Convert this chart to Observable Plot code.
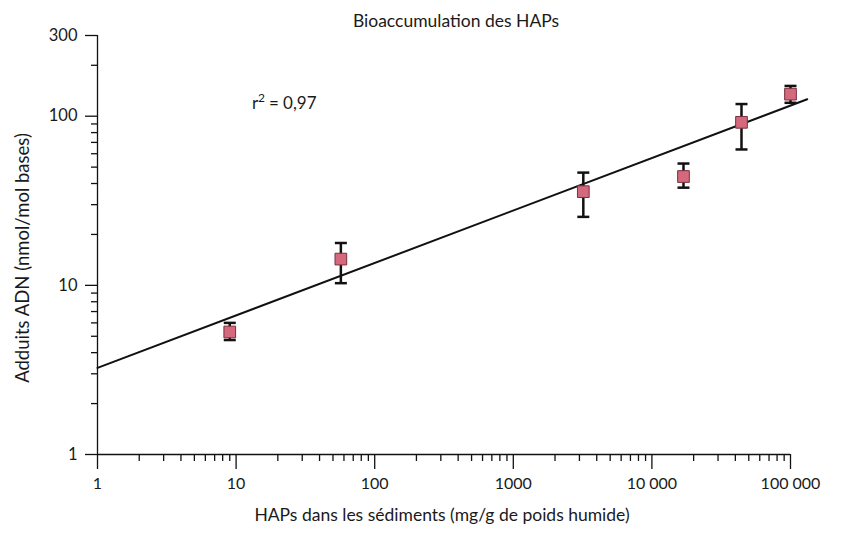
<!DOCTYPE html>
<html>
<head>
<meta charset="utf-8">
<script src="https://cdn.jsdelivr.net/npm/d3@7"></script>
<script src="https://cdn.jsdelivr.net/npm/@observablehq/plot@0.6"></script>
<style>
  html, body { margin: 0; padding: 0; background: #fff; }
  #chart { width: 841px; height: 536px; }
</style>
</head>
<body>
<div id="chart"></div>
<script>
// ---- data ----
const title = "Bioaccumulation des HAPs";
const xLabel = "HAPs dans les sédiments (mg/g de poids humide)";
const yLabel = "Adduits ADN (nmol/mol bases)";
const r2Label = "= 0,97";

const sediment = [9, 57, 3200, 16900, 44300, 100000];
const adducts  = [5.3, 14.3, 35.8, 44.0, 92, 135];
const adductsLow  = [4.75, 10.3, 25.4, 37.8, 63.6, 120];
const adductsHigh = [6.0, 17.8, 46.4, 52.5, 118, 151];

const fitX = [1, 132000];
const fitY = [3.25, 126];

const xMajorTicks = [1, 10, 100, 1000, 10000, 100000];
const xMajorLabels = ["1", "10", "100", "1000", "10 000", "100 000"];
const xMinorTicks = [2,3,4,5,6,7,8,9, 20,30,40,50,60,70,80,90, 200,300,400,500,600,700,800,900,
  2000,3000,4000,5000,6000,7000,8000,9000, 20000,30000,40000,50000,60000,70000,80000,90000];
const yMajorTicks = [1, 10, 100, 300];
const yMinorTicks = [2,3,4,5,6,7,8,9, 20,30,40,50,60,70,80,90, 200];

const r2Pos = {x: 13, y: 118};

// ---- table ----
const points = sediment.map((x, i) => ({x, y: adducts[i], lo: adductsLow[i], hi: adductsHigh[i]}));
const fit = fitX.map((x, i) => ({x, y: fitY[i]}));

const capSymbol = {
  draw(context, size) {
    const w = Math.sqrt(size / Math.PI);
    context.moveTo(-w, 0);
    context.lineTo(w, 0);
  }
};

const font = "Lato, 'Open Sans', sans-serif";

const chart = Plot.plot({
  width: 841,
  height: 536,
  marginLeft: 97,
  marginRight: 51,
  marginTop: 35,
  marginBottom: 82,
  style: {fontFamily: font, fontSize: "16px", color: "#1a1a1a", background: "#fff"},
  x: {type: "log", domain: [1, 100000]},
  y: {type: "log", domain: [1, 300]},
  marks: [
    // axis lines
    Plot.ruleY([1], {stroke: "#111", strokeWidth: 1.3}),
    Plot.ruleX([1], {stroke: "#111", strokeWidth: 1.3}),
    // x axis
    Plot.axisX({ticks: xMinorTicks, tickSize: 7, text: null, label: null, stroke: "#111", strokeWidth: 1.3}),
    Plot.axisX({ticks: xMajorTicks, tickSize: 15, tickPadding: 8, stroke: "#111", strokeWidth: 1.3,
      tickFormat: (d) => xMajorLabels[xMajorTicks.indexOf(d)], fontSize: 16, label: null}),
    // y axis
    Plot.axisY({ticks: yMinorTicks, tickSize: 6, text: null, label: null, stroke: "#111", strokeWidth: 1.3}),
    Plot.axisY({ticks: yMajorTicks, tickSize: 12, tickPadding: 8, stroke: "#111", strokeWidth: 1.3,
      tickFormat: (d) => String(d), fontSize: 16.5, label: null}),
    // regression line
    Plot.line(fit, {x: "x", y: "y", stroke: "#111", strokeWidth: 2}),
    // error bars
    Plot.ruleX(points, {x: "x", y1: "lo", y2: "hi", stroke: "#111", strokeWidth: 2.5}),
    Plot.dot(points, {x: "x", y: "lo", symbol: capSymbol, r: 6, stroke: "#111", strokeWidth: 2.5, fill: "none"}),
    Plot.dot(points, {x: "x", y: "hi", symbol: capSymbol, r: 6, stroke: "#111", strokeWidth: 2.5, fill: "none"}),
    // markers
    Plot.dot(points, {x: "x", y: "y", symbol: "square", r: 6.6, fill: "#d4687c", stroke: "#7a2f3d", strokeWidth: 1}),
    // r² annotation
    Plot.text([r2Pos], {x: "x", y: "y", text: () => "r", textAnchor: "start", fontSize: 17, fill: "#1a1a1a"}),
    Plot.text([r2Pos], {x: "x", y: "y", text: () => "2", textAnchor: "start", fontSize: 12, dx: 6, dy: -6, fill: "#1a1a1a"}),
    Plot.text([r2Pos], {x: "x", y: "y", text: () => r2Label, textAnchor: "start", fontSize: 17, dx: 17, fill: "#1a1a1a"}),
    // title and axis labels
    Plot.text([title], {frameAnchor: "top", dy: -21, dx: 12, fontSize: 17.5, fill: "#1a1a1a"}),
    Plot.text([xLabel], {frameAnchor: "bottom", dy: 66, dx: -2, fontSize: 17.5, fill: "#1a1a1a"}),
    Plot.text([yLabel], {frameAnchor: "left", textAnchor: "middle", dx: -74, dy: 13, rotate: -90, fontSize: 18.5, fill: "#1a1a1a"})
  ]
});

document.getElementById("chart").appendChild(chart);
</script>
</body>
</html>
